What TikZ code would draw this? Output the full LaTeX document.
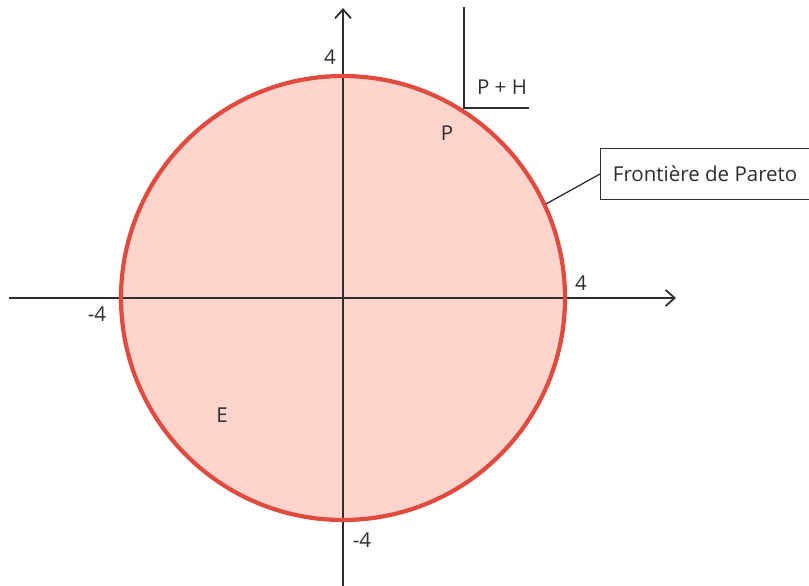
\documentclass[tikz,border=0pt]{standalone}
\usepackage{fontspec}
\setmainfont{Open Sans}
\usetikzlibrary{arrows.meta}
\definecolor{axisc}{HTML}{2E2E2E}
\definecolor{circc}{HTML}{E04A3F}
\definecolor{fillc}{HTML}{FFD4CC}
\tikzset{
  axis/.style={draw=axisc,line width=1.8pt,-{Straight Barb[length=9pt,width=16pt,line width=1.8pt]}},
  lbl/.style={font=\fontsize{20.5}{24}\selectfont,text=axisc,inner sep=0pt},
  thick line/.style={draw=axisc,line width=2.6pt},
}
\begin{document}
\begin{tikzpicture}[x=1pt,y=-1pt]
\useasboundingbox (0,0) rectangle (809,586);
\coordinate (O) at (343,298);
\fill[fillc] (O) circle (222);
\coordinate (xl) at (9,298);
\coordinate (xr) at (676,298);
\coordinate (yb) at (343,586);
\coordinate (yt) at (343,8);
\draw[axis] (xl) -- (xr);
\draw[axis] (yb) -- (yt);
\draw[circc,line width=4.2pt] (O) circle (222);
% P+H corner
\coordinate (phtop) at (464,8);
\coordinate (phc) at (464,108);
\coordinate (phr) at (528,108);
\draw[thick line,line cap=rect] (phtop) -- (phc) -- (phr);
\node[lbl] (ph) at (502,87) {P + H};
\node[lbl] (p) at (447,133) {P};
\node[lbl] (e) at (222,415) {E};
\node[lbl] (t1) at (330,57) {4};
\node[lbl] (t2) at (97,314) {-4};
\node[lbl] (t3) at (581,283) {4};
\node[lbl] (t4) at (362,540) {-4};
% Pareto box
\node[draw=axisc,line width=1.3pt,fill=white,minimum width=209pt,minimum height=51pt,anchor=west,inner sep=0pt,font=\fontsize{20.5}{24}\selectfont,text=axisc] (box) at (600,174) {Frontière de Pareto};
\coordinate (fp) at (546,204);
\draw[axisc,line width=1.3pt] (box.west) -- (fp);
\end{tikzpicture}
\end{document}
